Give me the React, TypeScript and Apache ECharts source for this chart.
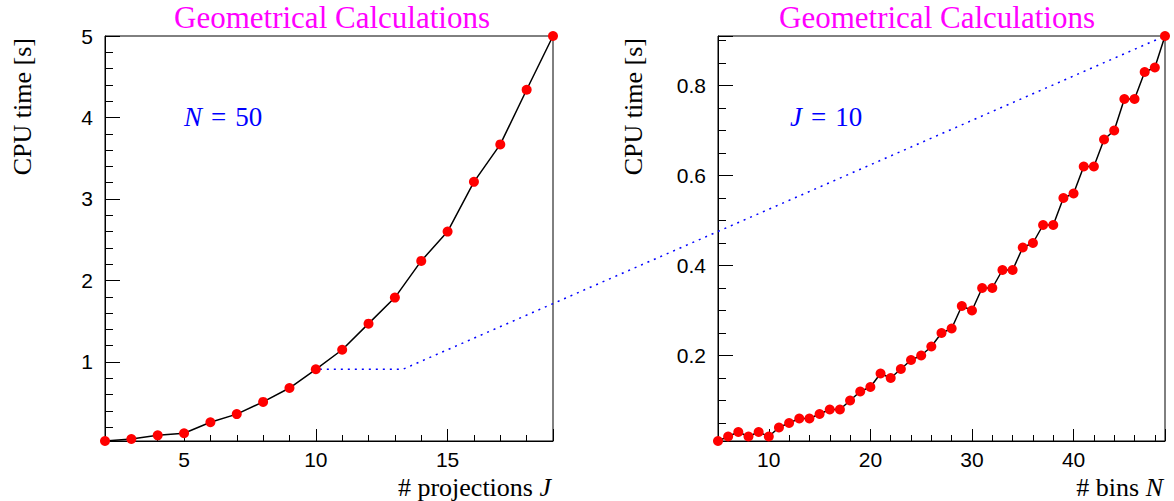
import React, { useEffect, useRef } from "react";
import * as echarts from "echarts";

// ---- data ----
const projJ = [2, 3, 4, 5, 6, 7, 8, 9, 10, 11, 12, 13, 14, 15, 16, 17, 18, 19];
const cpuVsJ = [0.03, 0.055, 0.1, 0.125, 0.26, 0.36, 0.51, 0.68, 0.91, 1.15, 1.47, 1.79, 2.24, 2.6, 3.21, 3.67, 4.34, 5.0];

const binsN = [5, 6, 7, 8, 9, 10, 11, 12, 13, 14, 15, 16, 17, 18, 19, 20, 21, 22, 23, 24, 25, 26, 27, 28, 29, 30, 31, 32, 33, 34, 35, 36, 37, 38, 39, 40, 41, 42, 43, 44, 45, 46, 47, 48, 49];
const cpuVsN = [0.01, 0.02, 0.03, 0.02, 0.03, 0.02, 0.04, 0.05, 0.06, 0.06, 0.07, 0.08, 0.08, 0.1, 0.12, 0.13, 0.16, 0.15, 0.17, 0.19, 0.2, 0.22, 0.25, 0.26, 0.31, 0.3, 0.35, 0.35, 0.39, 0.39, 0.44, 0.45, 0.49, 0.49, 0.55, 0.56, 0.62, 0.62, 0.68, 0.7, 0.77, 0.77, 0.83, 0.84, 0.91];

const titleText = "Geometrical Calculations";
const yTitle = "CPU time [s]";
const leftXTitle = "# projections ";
const leftXVar = "J";
const rightXTitle = "# bins ";
const rightXVar = "N";
const leftNote = { v: "N", rest: "50" };
const rightNote = { v: "J", rest: "10" };

// link between J=10 point (left) and N=49 point (right)
const linkFrom = [10, 0.91];
const linkKneeX = 13.3;
const linkTo = [49, 0.91];

const SERIF = "'Liberation Serif', 'DejaVu Serif', serif";
const SANS = "'Liberation Sans', Arial, sans-serif";

function axisCommon(fontSize: number, labelMargin: number, padding: number[]) {
  return {
    type: "value" as const,
    axisLine: { show: true, lineStyle: { color: "#000", width: 1 } },
    axisTick: { show: true, inside: true, lineStyle: { color: "#000", width: 1 } },
    minorTick: { show: true, lineStyle: { color: "#000", width: 1 } },
    splitLine: { show: false },
    minorSplitLine: { show: false },
    axisLabel: { color: "#000", fontSize, fontFamily: SANS, margin: labelMargin, padding },
  };
}

export default function App() {
  const ref = useRef<HTMLDivElement>(null);
  useEffect(() => {
    if (!ref.current) return;
    const chart = echarts.init(ref.current, undefined, { renderer: "svg" });
    const xl = axisCommon(21, 8, [0, 0, 0, 0]);
    const yl = axisCommon(21, 12, [6, 0, 0, 0]);
    const xr = axisCommon(21, 8, [0, 0, 0, 0]);
    const yr = axisCommon(21, 12, [6, 0, 0, 0]);
    chart.setOption({
      animation: false,
      backgroundColor: "#fff",
      grid: [
        { left: 105, top: 36, width: 448, height: 405, show: true, borderColor: "#000", borderWidth: 1, backgroundColor: "transparent" },
        { left: 718, top: 36, width: 447, height: 405, show: true, borderColor: "#000", borderWidth: 1, backgroundColor: "transparent" },
      ],
      xAxis: [
        { ...xl, gridIndex: 0, min: 2, max: 19, splitNumber: 4,
          axisTick: { ...xl.axisTick, length: 12 }, minorTick: { ...xl.minorTick, splitNumber: 5, length: 6 },
          axisLabel: { ...xl.axisLabel, showMinLabel: false, showMaxLabel: false } },
        { ...xr, gridIndex: 1, min: 5, max: 49, splitNumber: 4,
          axisTick: { ...xr.axisTick, length: 12 }, minorTick: { ...xr.minorTick, splitNumber: 5, length: 6 },
          axisLabel: { ...xr.axisLabel, showMinLabel: false, showMaxLabel: false } },
      ],
      yAxis: [
        { ...yl, gridIndex: 0, min: 0.03, max: 5, splitNumber: 5,
          axisTick: { ...yl.axisTick, length: 15 }, minorTick: { ...yl.minorTick, splitNumber: 5, length: 8 },
          axisLabel: { ...yl.axisLabel, showMinLabel: false, showMaxLabel: true } },
        { ...yr, gridIndex: 1, min: 0.01, max: 0.91, splitNumber: 5,
          axisTick: { ...yr.axisTick, length: 15 }, minorTick: { ...yr.minorTick, splitNumber: 4, length: 8 },
          axisLabel: { ...yr.axisLabel, showMinLabel: false, showMaxLabel: false } },
      ],
      series: [
        { type: "line", xAxisIndex: 0, yAxisIndex: 0, data: projJ.map((x, i) => [x, cpuVsJ[i]]),
          symbol: "circle", symbolSize: 10, itemStyle: { color: "#ff0000", borderWidth: 0 },
          lineStyle: { color: "#000", width: 1.5 }, z: 3 },
        { type: "line", xAxisIndex: 1, yAxisIndex: 1, data: binsN.map((x, i) => [x, cpuVsN[i]]),
          symbol: "circle", symbolSize: 10, itemStyle: { color: "#ff0000", borderWidth: 0 },
          lineStyle: { color: "#000", width: 1.5 }, z: 3 },
      ],
    });

    const p0 = chart.convertToPixel({ gridIndex: 0 }, linkFrom) as number[];
    const p1 = chart.convertToPixel({ gridIndex: 0 }, [linkKneeX, linkFrom[1]]) as number[];
    const p2 = chart.convertToPixel({ gridIndex: 1 }, linkTo) as number[];

    const txt = (x: number, y: number, text: string, o: any = {}) => ({
      type: "text", x, y, z: 10,
      style: { text, fill: "#000", fontFamily: SERIF, fontSize: 26, align: "center", verticalAlign: "middle", ...o },
    });
    const mathStyle = (fill: string, size: number) => ({
      i: { fontStyle: "italic", fontFamily: SERIF, fontSize: size, fill },
      r: { fontFamily: SERIF, fontSize: size, fill },
      e: { fontFamily: SERIF, fontSize: size, fill, padding: [0, 9, 0, 9] },
    });

    chart.setOption({
      graphic: [
        { type: "polyline", z: 1, shape: { points: [[p0[0] + 4, p0[1]], p1, p2] },
          style: { stroke: "#0000ff", lineWidth: 1.5, lineDash: [2, 5], fill: null } },
        txt(332, 17, titleText, { fill: "#ff00ff", fontSize: 31 }),
        txt(937, 17, titleText, { fill: "#ff00ff", fontSize: 31 }),
        { type: "text", x: 22, y: 38, rotation: Math.PI / 2, z: 10,
          style: { text: yTitle, fill: "#000", fontFamily: SERIF, fontSize: 26, align: "right", verticalAlign: "middle" } },
        { type: "text", x: 633, y: 38, rotation: Math.PI / 2, z: 10,
          style: { text: yTitle, fill: "#000", fontFamily: SERIF, fontSize: 26, align: "right", verticalAlign: "middle" } },
        txt(551, 487, `{r|${leftXTitle}}{i|${leftXVar}}`, { align: "right", rich: mathStyle("#000", 26) }),
        txt(1163, 487, `{r|${rightXTitle}}{i|${rightXVar}}`, { align: "right", rich: mathStyle("#000", 26) }),
        txt(184, 117, `{i|${leftNote.v}}{e|=}{r|${leftNote.rest}}`, { align: "left", rich: mathStyle("#0000ff", 27) }),
        txt(790, 117, `{i|${rightNote.v}}{e|=}{r|${rightNote.rest}}`, { align: "left", rich: mathStyle("#0000ff", 27) }),
      ],
    });

    return () => chart.dispose();
  }, []);
  return <div ref={ref} style={{ position: "fixed", left: 0, top: 0, width: 1174, height: 501, background: "#fff" }} />;
}
